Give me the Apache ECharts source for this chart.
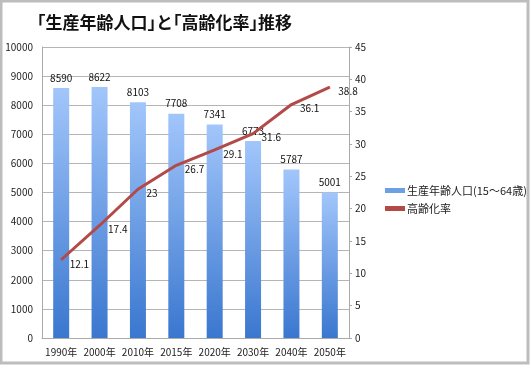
<!DOCTYPE html>
<html><head><meta charset="utf-8">
<script src="https://cdn.jsdelivr.net/npm/echarts@6/dist/echarts.min.js"></script>
<style>html,body{margin:0;padding:0;background:#fff}#c{width:530px;height:365px}</style>
</head><body><div id="c"></div>
<script>
const categories = ['1990年','2000年','2010年','2015年','2020年','2030年','2040年','2050年'];
const population = [8590, 8622, 8103, 7708, 7341, 6773, 5787, 5001];
const agingRate = [12.1, 17.4, 23, 26.7, 29.1, 31.6, 36.1, 38.8];
const leftTicks = {min: 0, max: 10000, interval: 1000};
const rightTicks = {min: 0, max: 45, interval: 5};

const chart = echarts.init(document.getElementById('c'));
const font = '"Noto Sans CJK JP", "Noto Sans", sans-serif';
chart.setOption({
  animation: false,
  textStyle: {fontFamily: font},
  graphic: [{
    type: 'rect', shape: {x: 1, y: 1, width: 527, height: 362},
    style: {fill: 'none', stroke: '#bdbdbd', lineWidth: 3}, silent: true, z: -1
  }],
  title: {
    text: '｢生産年齢人口｣と｢高齢化率｣推移', left: 32, top: 9,
    textStyle: {fontSize: 17, fontWeight: 'bold', color: '#111', fontFamily: font}
  },
  legend: {
    orient: 'vertical', left: 380, top: 180, itemWidth: 20, itemHeight: 5, itemGap: 7,
    textStyle: {fontSize: 11, color: '#222', fontFamily: font, padding: [0,0,0,-3]},
    data: [
      {name: '生産年齢人口(15〜64歳)', icon: 'rect', itemStyle: {color: '#6d9fe3'}},
      {name: '高齢化率', icon: 'rect'}
    ]
  },
  grid: {left: 42, right: 181, top: 47, bottom: 27},
  xAxis: {
    type: 'category', data: categories,
    axisLine: {lineStyle: {color: '#aaa'}}, axisTick: {show: false},
    axisLabel: {fontSize: 10, color: '#222', margin: 9, interval: 0}
  },
  yAxis: [{
    type: 'value', min: leftTicks.min, max: leftTicks.max, interval: leftTicks.interval,
    axisLine: {show: true, lineStyle: {color: '#aaa'}}, axisTick: {show: false},
    splitLine: {lineStyle: {color: '#b5b5b5'}},
    axisLabel: {fontSize: 10, color: '#222', margin: 9, formatter: v => String(v)}
  }, {
    type: 'value', min: rightTicks.min, max: rightTicks.max, interval: rightTicks.interval,
    position: 'right',
    axisLine: {show: true, lineStyle: {color: '#aaa'}},
    axisTick: {show: true, length: 3, inside: false, lineStyle: {color: '#aaa'}},
    splitLine: {show: false},
    axisLabel: {fontSize: 10, color: '#222', margin: 6}
  }],
  series: [{
    name: '生産年齢人口(15〜64歳)', type: 'bar', data: population, barWidth: 16,
    itemStyle: {color: new echarts.graphic.LinearGradient(0,0,0,1,[
      {offset: 0, color: '#a2c6fb'}, {offset: 1, color: '#3a77cf'}])},
    label: {show: true, position: 'top', distance: 5, fontSize: 10, color: '#111'}
  }, {
    name: '高齢化率', type: 'line', yAxisIndex: 1, data: agingRate,
    lineStyle: {color: '#b24a48', width: 3}, itemStyle: {color: '#b24a48'},
    symbol: 'circle', symbolSize: 1,
    label: {show: true, position: 'right', distance: 8, offset: [0, 4], fontSize: 10, color: '#111'}
  }]
});
</script></body></html>
